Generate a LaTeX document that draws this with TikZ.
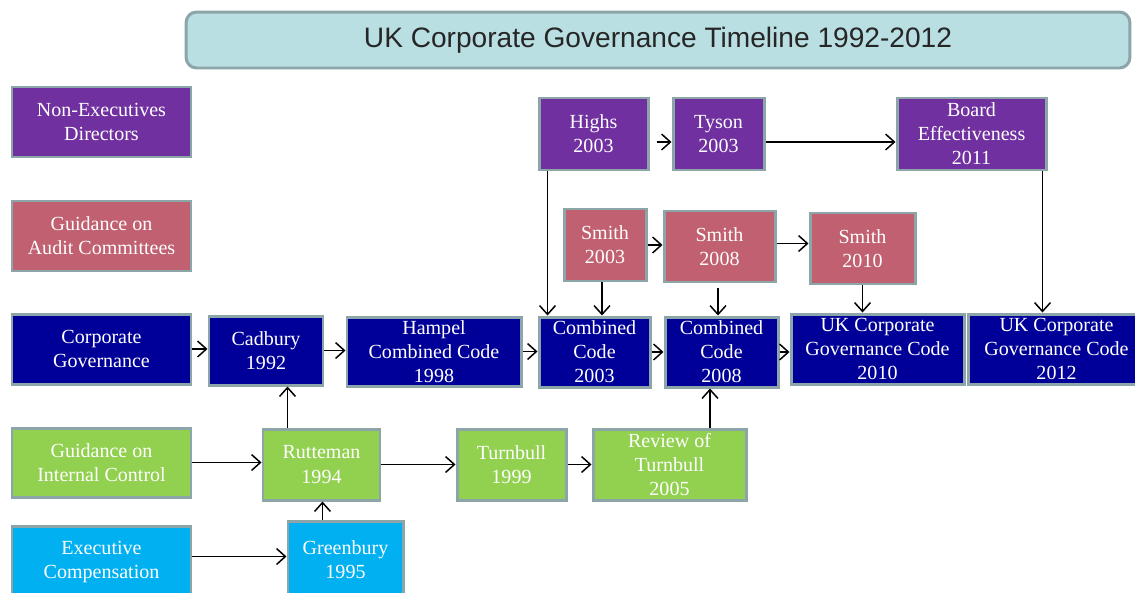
\documentclass[tikz,border=0pt]{standalone}
\usepackage{fontspec}
\setmainfont{Liberation Serif}
\newfontfamily\boxfont{Liberation Serif}
\newfontfamily\titlefont{Liberation Sans}
\usetikzlibrary{arrows.meta}

\definecolor{nedpurple}{HTML}{7030A0}
\definecolor{auditrose}{HTML}{C06070}
\definecolor{cgnavy}{HTML}{000099}
\definecolor{icgreen}{HTML}{92D050}
\definecolor{eccyan}{HTML}{00B0F0}
\definecolor{boxedge}{HTML}{8CA5A9}
\definecolor{titlefill}{HTML}{B9DFE3}
\definecolor{titletext}{HTML}{262626}

\tikzset{
  box/.style={draw=boxedge, line width=1.7pt, text=white, align=center,
    inner sep=0pt, font=\boxfont\fontsize{11.4pt}{13.7pt}\selectfont},
  ned/.style={box, fill=nedpurple},
  audit/.style={box, fill=auditrose},
  cgov/.style={box, fill=cgnavy},
  ictrl/.style={box, fill=icgreen},
  ecomp/.style={box, fill=eccyan},
  arr/.style={draw=black, line width=0.85pt, -{Straight Barb[length=5pt,width=9pt,line width=0.85pt]}},
}

% box given by its left, top, right and bottom edges
\newcommand\tlbox[7]{%
  \node[#2, minimum width={(#5-#3)*0.02cm}, minimum height={(#6-#4)*0.02cm}]
    (#1) at ({(#3+#5)/2},{(#4+#6)/2}) {#7};}

\begin{document}
\begin{tikzpicture}[x=0.02cm, y=-0.02cm]
\clip (0,0) rectangle (1135,592);
\fill[white] (0,0) rectangle (1135,592);

% title banner
\node[draw=boxedge, line width=1.7pt, fill=titlefill, rounded corners=6pt,
  minimum width=18.88cm, minimum height=1.12cm, text=titletext,
  font=\titlefont\fontsize{16pt}{19pt}\selectfont] (title) at (658,40)
  {UK Corporate Governance Timeline 1992-2012};

% legend column
\tlbox{ned}{ned}{12}{87}{191}{157}{Non-Executives\\Directors}
\tlbox{gac}{audit}{12}{201}{191}{271}{Guidance on\\Audit Committees}
\tlbox{cg}{cgov}{12}{314}{191}{384}{Corporate\\Governance}
\tlbox{gic}{ictrl}{12}{428}{191}{497}{Guidance on\\Internal Control}
\tlbox{ec}{ecomp}{12}{526}{191}{598}{Executive\\Compensation}

% non-executive directors
\tlbox{hig}{ned}{539}{98}{648}{170}{Highs\\2003}
\tlbox{tys}{ned}{673}{98}{764}{170}{Tyson\\2003}
\tlbox{bef}{ned}{897}{98}{1046}{170}{Board\\Effectiveness\\2011}

% audit committees
\tlbox{sm03}{audit}{564}{209}{646}{281}{Smith\\2003}
\tlbox{sm08}{audit}{664}{211}{775}{282}{Smith\\2008}
\tlbox{sm10}{audit}{810}{213}{915}{284}{Smith\\2010}

% corporate governance codes
\tlbox{cad}{cgov}{209}{316}{323}{385}{Cadbury\\1992}
\tlbox{ham}{cgov}{347}{317}{521}{386}{Hampel\\Combined Code\\1998}
\tlbox{cc03}{cgov}{539}{317}{650}{387}{Combined\\Code\\2003}
\tlbox{cc08}{cgov}{665}{317}{778}{387}{Combined\\Code\\2008}
\tlbox{uk10}{cgov}{791}{314}{964}{384}{UK Corporate\\Governance Code\\2010}
\tlbox{uk12}{cgov}{968}{314}{1145}{384}{UK Corporate\\Governance Code\\2012}

% internal control
\tlbox{rut}{ictrl}{263}{429}{380}{500}{Rutteman\\1994}
\tlbox{tb99}{ictrl}{457}{429}{566}{500}{Turnbull\\1999}
\tlbox{rtb}{ictrl}{593}{429}{746}{500}{Review of\\Turnbull\\2005}

% executive compensation
\tlbox{grb}{ecomp}{288}{521}{403}{598}{Greenbury\\1995}

% horizontal links
\draw[arr] (cg.east) -- (cg.east -| cad.west);
\draw[arr] (cad.east) -- (cad.east -| ham.west);
\draw[arr] (ham.east) -- (ham.east -| cc03.west);
\draw[arr] (cc03.east) -- (cc03.east -| cc08.west);
\draw[arr] (cc08.east) -- (cc08.east -| uk10.west);
\draw[arr, shorten <=0.14cm] ([yshift=-0.16cm]hig.east) -- ([yshift=-0.16cm]hig.east -| tys.west);
\draw[arr] ([yshift=-0.16cm]tys.east) -- ([yshift=-0.16cm]tys.east -| bef.west);
\draw[arr] (sm03.east) -- (sm03.east -| sm08.west);
\draw[arr] ([yshift=0.06cm]sm08.east) -- ([yshift=0.06cm]sm08.east -| sm10.west);
\draw[arr] (gic.east) -- (gic.east -| rut.west);
\draw[arr] (rut.east) -- (rut.east -| tb99.west);
\draw[arr] (tb99.east) -- (tb99.east -| rtb.west);
\draw[arr] ([yshift=0.11cm]ec.east) -- ([yshift=0.11cm]ec.east -| grb.west);

% vertical links
\draw[arr] ([xshift=0.2cm]hig.south west) coordinate (hdrop) -- (hdrop |- cc03.north);
\draw[arr] ([xshift=-0.06cm]sm03.south) coordinate (s3drop) -- (s3drop |- cc03.north);
\draw[arr, shorten <=0.1cm] ([xshift=-0.03cm]sm08.south) coordinate (s8drop) -- (s8drop |- cc08.north);
\draw[arr] (sm10.south) -- (sm10.south |- uk10.north);
\draw[arr] ([xshift=-0.1cm]bef.south east) coordinate (bdrop) -- (bdrop |- uk12.north);
\draw[arr] ([xshift=0.52cm]rut.north west) coordinate (rrise) -- (rrise |- cad.south);
\draw[arr] ([xshift=0.81cm]rtb.north) coordinate (trise) -- (trise |- cc08.south);
\draw[arr] ([xshift=0.72cm]grb.north west) coordinate (grise) -- (grise |- rut.south);
\end{tikzpicture}
\end{document}
